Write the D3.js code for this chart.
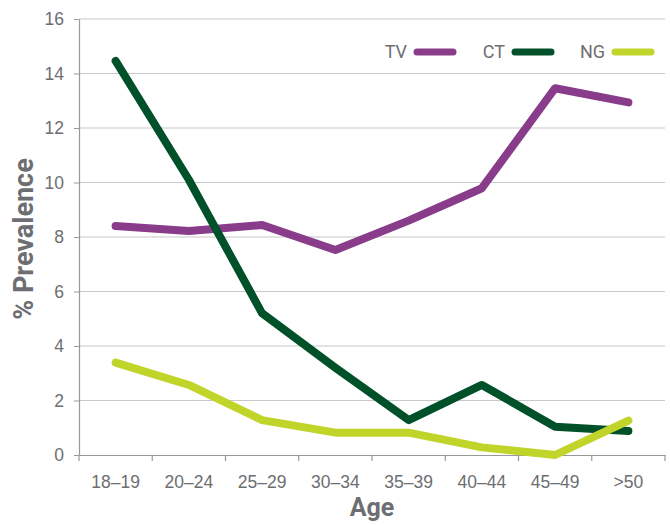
<!DOCTYPE html>
<html lang="en">
<head>
<meta charset="UTF-8">
<title>Prevalence by age</title>
<style>
  body { margin: 0; background: #fff; }
  svg { display: block; font-family: Roboto, "Liberation Sans", sans-serif; }
  .tick text { fill: #6d6e71; font-size: 17.5px; }
</style>
<script src="https://d3js.org/d3.v7.min.js"></script>
</head>
<body>
<svg width="670" height="525"></svg>
<script>
// categories and series
const ages = ["18\u201319", "20\u201324", "25\u201329", "30\u201334", "35\u201339", "40\u201344", "45\u201349", ">50"];
const tv = [8.4, 8.22, 8.44, 7.52, 8.6, 9.79, 13.46, 12.94];
const ct = [14.46, 10.1, 5.2, 3.2, 1.28, 2.57, 1.04, 0.88];
const ng = [3.39, 2.57, 1.28, 0.82, 0.82, 0.28, 0, 1.26];
const yTicks = [0, 2, 4, 6, 8, 10, 12, 14, 16];

const series = [
  { name: "TV", values: tv, color: "#883c8a" },
  { name: "CT", values: ct, color: "#00502a" },
  { name: "NG", values: ng, color: "#c1d42a" }
];

const svg = d3.select("svg");
const plotLeft = 79, plotRight = 665, plotTop = 19, plotBottom = 455;

const x = d3.scaleBand().domain(ages).range([plotLeft, plotRight]);
const y = d3.scaleLinear().domain([0, 16]).range([plotBottom, plotTop]);

// gridlines
svg.append("g")
  .selectAll("line")
  .data(yTicks.filter(d => d > 0))
  .enter().append("line")
  .attr("x1", plotLeft).attr("x2", plotRight)
  .attr("y1", d => y(d)).attr("y2", d => y(d))
  .attr("stroke", "#c8c8c8").attr("stroke-width", 1.2);

// y axis
const yAxis = svg.append("g")
  .attr("transform", `translate(${plotLeft},0)`)
  .call(d3.axisLeft(y).tickValues(yTicks).tickSize(5).tickSizeOuter(0).tickPadding(10));
yAxis.select(".domain").attr("stroke", "#999").attr("stroke-width", 1.2);
yAxis.selectAll(".tick line").attr("stroke", "#999");

// x axis: ticks on band edges
const xAxis = svg.append("g")
  .attr("transform", `translate(0,${plotBottom})`)
  .call(d3.axisBottom(x).tickSize(0).tickPadding(21));
xAxis.select(".domain").attr("stroke", "#999").attr("stroke-width", 1.2);
xAxis.selectAll(".edge")
  .data(ages.concat(["end"]))
  .enter().append("line")
  .attr("class", "edge")
  .attr("x1", (d, i) => plotLeft + i * x.bandwidth())
  .attr("x2", (d, i) => plotLeft + i * x.bandwidth())
  .attr("y1", 0).attr("y2", 6)
  .attr("stroke", "#999").attr("stroke-width", 1.2);

// lines
const line = d3.line()
  .x((d, i) => x(ages[i]) + x.bandwidth() / 2)
  .y(d => y(d));

svg.append("g")
  .selectAll("path")
  .data(series)
  .enter().append("path")
  .attr("d", d => line(d.values))
  .attr("fill", "none")
  .attr("stroke", d => d.color)
  .attr("stroke-width", 8)
  .attr("stroke-linecap", "round")
  .attr("stroke-linejoin", "round");

// legend
const legendX = [407, 505, 605];
const leg = svg.append("g")
  .selectAll("g")
  .data(series)
  .enter().append("g")
  .attr("transform", (d, i) => `translate(${legendX[i]},52)`);
leg.append("text")
  .attr("text-anchor", "end")
  .attr("dy", "0.35em")
  .attr("fill", "#6d6e71")
  .style("font-size", "18px")
  .text(d => d.name);
leg.append("line")
  .attr("x1", 10).attr("x2", 46)
  .attr("stroke", d => d.color)
  .attr("stroke-width", 7)
  .attr("stroke-linecap", "round");

// axis titles
svg.append("text")
  .attr("transform", "translate(33,239) rotate(-90)")
  .attr("text-anchor", "middle")
  .attr("fill", "#6d6e71")
  .style("font-size", "27px").style("font-weight", "bold")
  .text("% Prevalence");

svg.append("text")
  .attr("x", 372).attr("y", 516)
  .attr("text-anchor", "middle")
  .attr("fill", "#6d6e71")
  .style("font-size", "25px").style("font-weight", "bold")
  .text("Age");
</script>
</body>
</html>
